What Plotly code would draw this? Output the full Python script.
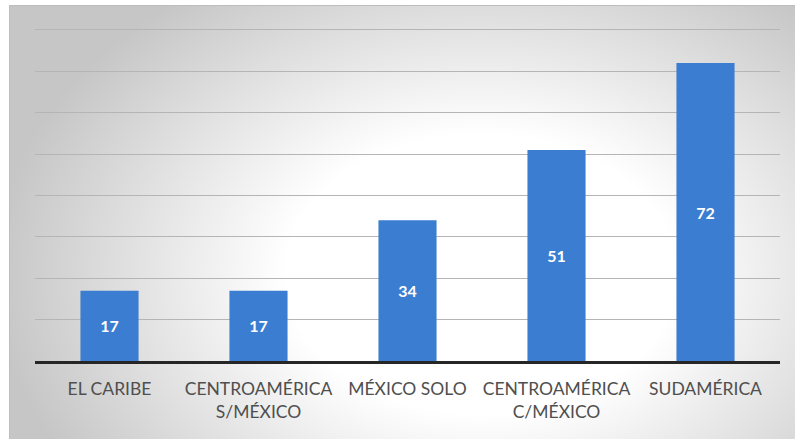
import base64
import plotly.graph_objects as go

categories = ["EL CARIBE", "CENTROAMÉRICA<br>S/MÉXICO", "MÉXICO SOLO", "CENTROAMÉRICA<br>C/MÉXICO", "SUDAMÉRICA"]
values = [17, 17, 34, 51, 72]
y_ticks = [0, 10, 20, 30, 40, 50, 60, 70, 80]

W, H = 795, 439
L, R, T, B = 35, 15, 28, 78
pw, ph = W - L - R, H - T - B

def px_x(p):
    return (p - L) / pw

def px_y(p):
    return (H - B - p) / ph

svg = (
    "<svg xmlns='http://www.w3.org/2000/svg' width='786' height='434' preserveAspectRatio='none'>"
    "<defs><radialGradient id='g' cx='0.6' cy='0.62' r='0.62' gradientTransform='translate(0.6 0.62) scale(1 1.3) translate(-0.6 -0.62)'>"
    "<stop offset='0' stop-color='#ffffff'/><stop offset='0.4' stop-color='#ffffff'/>"
    "<stop offset='1' stop-color='#c6c6c6'/></radialGradient></defs>"
    "<rect width='786' height='434' fill='url(#g)'/></svg>"
)
src = "data:image/svg+xml;base64," + base64.b64encode(svg.encode()).decode()

fig = go.Figure(
    go.Bar(
        x=categories,
        y=values,
        marker=dict(color="#3b7dd0", line=dict(width=0)),
        width=0.39,
        text=[str(v) for v in values],
        textposition="inside",
        insidetextanchor="middle",
        textangle=0,
        textfont=dict(family="Lato", size=16, color="white", weight="bold"),
        hoverinfo="skip",
    )
)

fig.add_layout_image(
    dict(
        source=src,
        xref="paper", yref="paper",
        x=px_x(9), y=px_y(5),
        sizex=(W - 9) / pw, sizey=(H - 5) / ph,
        xanchor="left", yanchor="top",
        sizing="stretch", layer="below",
    )
)

fig.add_shape(
    type="rect", xref="paper", yref="paper",
    x0=px_x(9.5), x1=px_x(W + 2), y0=px_y(H + 2), y1=px_y(5.5),
    line=dict(color="#bdbdbd", width=1), layer="below",
)

fig.update_layout(
    width=W, height=H,
    margin=dict(l=L, r=R, t=T, b=B),
    paper_bgcolor="white",
    plot_bgcolor="rgba(0,0,0,0)",
    showlegend=False,
    bargap=0.61,
    xaxis=dict(
        showline=True, linecolor="#262626", linewidth=3,
        ticks="", tickfont=dict(family="Lato", size=17.5, color="#4f4f4f"),
        ticklabelstandoff=10, showgrid=False,
    ),
    yaxis=dict(
        range=[0, 80.48], tickvals=y_ticks, showticklabels=False,
        showgrid=True, gridcolor="#b5b5b5", gridwidth=1,
        zeroline=False, showline=False, ticks="",
    ),
)

fig.write_html("out.html")
